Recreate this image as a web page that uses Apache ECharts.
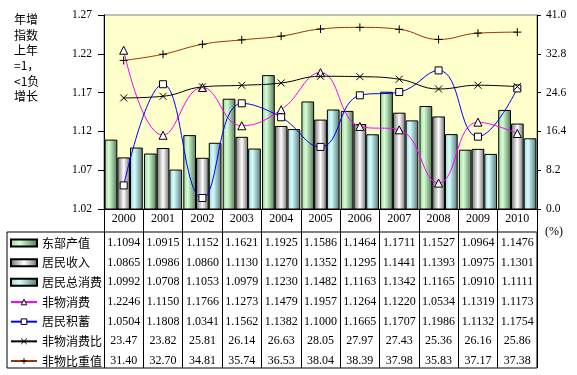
<!DOCTYPE html>
<html>
<head>
<meta charset="utf-8">
<script src="https://cdn.jsdelivr.net/npm/echarts@6/dist/echarts.min.js"></script>
<style>
  html, body { margin: 0; padding: 0; background: #fff; }
  #chart { width: 577px; height: 375px; }
</style>
</head>
<body>
<div id="chart"></div>
<script>
const years = ['2000', '2001', '2002', '2003', '2004', '2005', '2006', '2007', '2008', '2009', '2010'];
const eastOutput = [1.1094, 1.0915, 1.1152, 1.1621, 1.1925, 1.1586, 1.1464, 1.1711, 1.1527, 1.0964, 1.1476];
const income = [1.0865, 1.0986, 1.0860, 1.1130, 1.1270, 1.1352, 1.1295, 1.1441, 1.1393, 1.0975, 1.1301];
const totalConsumption = [1.0992, 1.0708, 1.1053, 1.0979, 1.1230, 1.1482, 1.1163, 1.1342, 1.1165, 1.0910, 1.1111];
const nonMaterial = [1.2246, 1.1150, 1.1766, 1.1273, 1.1479, 1.1957, 1.1264, 1.1220, 1.0534, 1.1319, 1.1173];
const savings = [1.0504, 1.1808, 1.0341, 1.1562, 1.1382, 1.1000, 1.1665, 1.1707, 1.1986, 1.1132, 1.1754];
const nonMaterialRatio = [23.47, 23.82, 25.81, 26.14, 26.63, 28.05, 27.97, 27.43, 25.36, 26.16, 25.86];
const nonMaterialShare = [31.40, 32.70, 34.81, 35.74, 36.53, 38.04, 38.39, 37.98, 35.83, 37.17, 37.38];

const seriesNames = ['东部产值', '居民收入', '居民总消费', '非物消费', '居民积蓄', '非物消费比', '非物比重值'];

const serif = '"Liberation Serif", "Times New Roman", serif';
const cjk = '"Noto Sans CJK SC", sans-serif';

// 横向渐变的柱子
const grad = (stops) => new echarts.graphic.LinearGradient(0, 0, 1, 0,
  stops.map(([offset, color]) => ({ offset, color })));

const greenFill = grad([[0, '#a3d3a3'], [0.35, '#d4ffd4'], [1, '#55755a']]);
const greyFill = grad([[0, '#6e6e6e'], [0.5, '#ffffff'], [1, '#6a6a6a']]);
const cyanFill = grad([[0, '#a3d3d3'], [0.35, '#d4ffff'], [1, '#557575']]);

const chart = echarts.init(document.getElementById('chart'));

const barSeries = (name, data, fill) => ({
  name,
  type: 'bar',
  yAxisIndex: 0,
  data,
  barGap: '0%',
  barCategoryGap: '3%',
  itemStyle: { color: fill, borderColor: '#000', borderWidth: 1 },
  z: 2
});

const markerStyle = { color: '#fff', borderColor: '#000', borderWidth: 1 };

const lineSeries = (name, data, axis, color, symbol, size) => ({
  name,
  type: 'line',
  yAxisIndex: axis,
  data,
  smooth: 0.45,
  symbol,
  symbolSize: size,
  showAllSymbol: true,
  lineStyle: { color, width: 1 },
  itemStyle: markerStyle,
  z: 5
});

// 表格行文字（x 轴标签）
const labelRich = {
  y: { fontFamily: serif, fontSize: 12, lineHeight: 28, color: '#000' },
  v: { fontFamily: serif, fontSize: 12, lineHeight: 19.67, color: '#000' }
};

const option = {
  animation: false,
  backgroundColor: '#fff',
  title: {
    text: '年增\n指数\n上年\n=1，\n<1负\n增长',
    left: 9,
    top: 7,
    textStyle: { fontFamily: cjk, fontSize: 12, fontWeight: 'normal', lineHeight: 15.4, color: '#000' }
  },
  grid: {
    left: 104, right: 40, top: 15, bottom: 166,
    show: true,
    backgroundColor: '#FFFFCC',
    borderColor: '#808080',
    borderWidth: 1
  },
  legend: {
    orient: 'vertical',
    left: 10,
    top: 236,
    padding: 0,
    height: 150,
    itemWidth: 26,
    itemHeight: 7,
    itemGap: 5.67,
    textStyle: { fontFamily: cjk, fontSize: 12, lineHeight: 14, color: '#000' },
    data: seriesNames.map((name, i) => i < 3
      ? { name, icon: 'rect' }
      : { name, itemStyle: markerStyle })
  },
  xAxis: {
    type: 'category',
    data: years,
    axisLine: { lineStyle: { color: '#000', width: 1 } },
    axisTick: { show: true, interval: 0, length: 159, lineStyle: { color: '#000', width: 1 } },
    axisLabel: {
      interval: 0,
      margin: -4,
      rich: labelRich,
      formatter: (value, idx) => [
        `{y|${value}}`,
        `{v|${eastOutput[idx].toFixed(4)}}`,
        `{v|${income[idx].toFixed(4)}}`,
        `{v|${totalConsumption[idx].toFixed(4)}}`,
        `{v|${nonMaterial[idx].toFixed(4)}}`,
        `{v|${savings[idx].toFixed(4)}}`,
        `{v|${nonMaterialRatio[idx].toFixed(2)}}`,
        `{v|${nonMaterialShare[idx].toFixed(2)}}`
      ].join('\n')
    }
  },
  yAxis: [
    {
      type: 'value',
      min: 1.02,
      max: 1.27,
      interval: 0.05,
      axisLine: { show: true, lineStyle: { color: '#000' } },
      axisTick: { show: true, length: 6, lineStyle: { color: '#000' } },
      axisLabel: {
        margin: 12,
        fontFamily: serif, fontSize: 11.5, color: '#000',
        formatter: (v) => v.toFixed(2)
      },
      splitLine: { show: false }
    },
    {
      type: 'value',
      min: 0,
      max: 41,
      interval: 8.2,
      axisLine: { show: true, lineStyle: { color: '#000' } },
      axisTick: { show: true, length: 4, lineStyle: { color: '#000' } },
      axisLabel: {
        margin: 9,
        fontFamily: serif, fontSize: 11.5, color: '#000',
        formatter: (v) => v.toFixed(1)
      },
      splitLine: { show: false }
    }
  ],
  graphic: [
    // 表格外框
    {
      type: 'rect',
      shape: { x: 7, y: 232, width: 530, height: 136 },
      style: { fill: 'none', stroke: '#000', lineWidth: 1 },
      silent: true
    },
    {
      type: 'text',
      left: 545,
      top: 226,
      style: { text: '(%)', fontFamily: serif, fontSize: 12, fill: '#000' }
    }
  ],
  series: [
    barSeries(seriesNames[0], eastOutput, greenFill),
    barSeries(seriesNames[1], income, greyFill),
    barSeries(seriesNames[2], totalConsumption, cyanFill),
    lineSeries(seriesNames[3], nonMaterial, 0, '#FF00FF', 'triangle', 8),
    lineSeries(seriesNames[4], savings, 0, '#0000FF', 'rect', 7),
    lineSeries(seriesNames[5], nonMaterialRatio, 1, '#000', 'path://M0,0L10,10M10,0L0,10', 7),
    lineSeries(seriesNames[6], nonMaterialShare, 1, '#993300', 'path://M5,0L5,10M0,5L10,5', 8)
  ]
};

chart.setOption(option);
</script>
</body>
</html>
